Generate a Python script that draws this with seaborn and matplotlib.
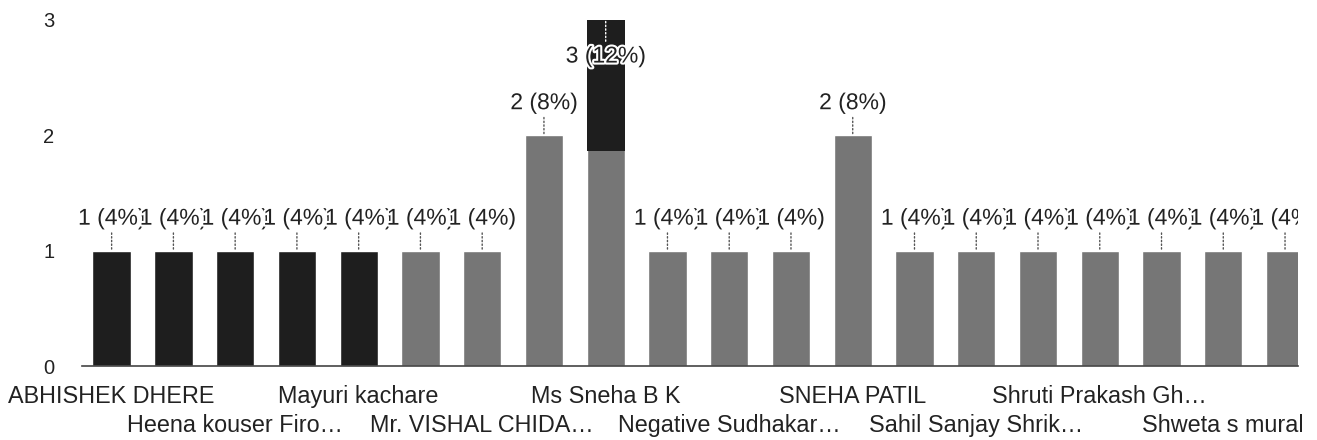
import pandas as pd
import seaborn as sns
import matplotlib.pyplot as plt
from matplotlib.patches import Rectangle
import matplotlib.patheffects as pe

# responses per name (sorted alphabetically, only every other name is labelled)
names = ["ABHISHEK DHERE", "", "Heena kouser Firo…", "", "Mayuri kachare", "",
         "Mr. VISHAL CHIDA…", "", "Ms Sneha B K", "", "Negative Sudhakar…", "",
         "SNEHA PATIL", "", "Sahil Sanjay Shrik…", "", "Shruti Prakash Gh…", "",
         "Shweta s mural", ""]
counts = [1, 1, 1, 1, 1, 1, 1, 2, 3, 1, 1, 1, 2, 1, 1, 1, 1, 1, 1, 1]
total_responses = 25
bar_colors = ["#1e1e1e"] * 5 + ["#767676"] * 15

df = pd.DataFrame({"id": [f"c{i}" for i in range(len(counts))], "count": counts})

sns.set_theme(style="white")
plt.rcParams["font.family"] = ["Liberation Sans", "DejaVu Sans"]

fig = plt.figure(figsize=(13.17, 4.4), dpi=100)
ax = fig.add_axes([82 / 1317, 74 / 440, (1298 - 82) / 1317, 358 / 440])

sns.barplot(data=df, x="id", y="count", hue="id", palette=bar_colors,
            legend=False, width=0.62, saturation=1, ax=ax)

# scanned copy: the tallest bar is dark on its upper part only
top = max(counts)
for p, v in zip(ax.patches, counts):
    if v == top:
        p.set_facecolor("#767676")
        h = p.get_height()
        ax.add_patch(Rectangle((p.get_x(), h * 0.62), p.get_width(), h * 0.38,
                               facecolor="#1e1e1e", edgecolor="none"))

halo = [pe.withStroke(linewidth=3, foreground="white")]
last = len(counts) - 1
for i, v in enumerate(counts):
    txt = f"{v} ({round(v / total_responses * 100)}%)"
    if v == top:
        ax.annotate(txt, xy=(i, v), xytext=(0, -18), textcoords="offset points",
                    ha="center", va="top", fontsize=16.5, color="#222222",
                    path_effects=halo,
                    arrowprops=dict(arrowstyle="-", color="white", lw=1, ls=":",
                                    shrinkA=0, shrinkB=0))
    else:
        ax.annotate(txt, xy=(i, v), xytext=(0, 15), textcoords="offset points",
                    ha="center", va="bottom", fontsize=16.5, color="#222222",
                    clip_on=(i == last), path_effects=halo,
                    arrowprops=dict(arrowstyle="-", color="#555555", lw=1, ls=":",
                                    shrinkA=0, shrinkB=0))

# staggered category labels
tick_labels = []
k = 0
for n in names:
    if n:
        tick_labels.append(n if k % 2 == 0 else "\n" + n)
        k += 1
    else:
        tick_labels.append("")
ax.set_xticks(range(len(names)))
ax.set_xticklabels(tick_labels, fontsize=16.8, color="#222222", linespacing=1.3)
ax.set_yticks([0, 1, 2, 3])
ax.set_yticklabels(["0", "1", "2", "3"], fontsize=14.5, color="#222222")
ax.tick_params(axis="x", length=0, pad=14)
ax.tick_params(axis="y", length=0, pad=20)

ax.set_xlim(-0.48, 19.21)
ax.set_ylim(0, 3.1)
ax.set_xlabel("")
ax.set_ylabel("")
for s in ["top", "right", "left"]:
    ax.spines[s].set_visible(False)
ax.spines["bottom"].set_color("#444444")
ax.spines["bottom"].set_linewidth(1.2)

plt.savefig("out.png", dpi=100)
